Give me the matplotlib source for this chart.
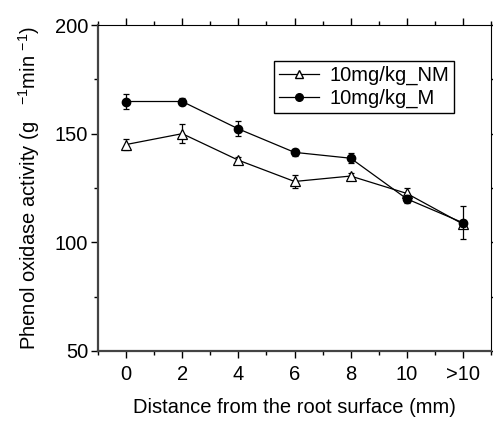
import matplotlib.pyplot as plt
import numpy as np
from matplotlib.ticker import MultipleLocator
from matplotlib.lines import Line2D

plt.rcParams['font.family'] = ['Liberation Sans', 'DejaVu Sans']
plt.rcParams['mathtext.fontset'] = 'custom'
plt.rcParams['mathtext.rm'] = 'Liberation Sans'
plt.rcParams['mathtext.default'] = 'regular'

# data
distance = ['0', '2', '4', '6', '8', '10', '>10']
nm_mean = [145.0, 150.0, 137.8, 128.0, 130.5, 122.5, 108.4]
nm_err = [2.5, 4.3, 1.5, 3.0, 1.5, 2.5, 2.0]
m_mean = [164.8, 164.8, 152.2, 141.4, 138.7, 120.0, 109.0]
m_err = [3.4, 1.5, 3.5, 1.5, 2.2, 2.0, 7.6]

x = np.arange(len(distance))

fig = plt.figure(figsize=(4.93, 4.21), dpi=100)
ax = fig.add_axes([0.1988, 0.1663, 0.7972, 0.7743])

ax.errorbar(x, nm_mean, yerr=nm_err, color='black', marker='^', markersize=6.5,
            markerfacecolor='white', markeredgecolor='black', markeredgewidth=0.9,
            linewidth=0.9, elinewidth=0.9, capsize=2.5, capthick=0.9, zorder=3)
ax.errorbar(x, m_mean, yerr=m_err, color='black', marker='o', markersize=6,
            markerfacecolor='black', markeredgecolor='black',
            linewidth=0.9, elinewidth=0.9, capsize=2.5, capthick=0.9, zorder=4)

ax.set_xlim(-0.5, 6.5)
ax.set_ylim(50, 200)
ax.set_xticks(x)
ax.set_xticklabels(distance)
ax.xaxis.set_minor_locator(MultipleLocator(0.5))
ax.set_yticks([50, 100, 150, 200])
ax.yaxis.set_minor_locator(MultipleLocator(25))

ax.tick_params(axis='both', which='both', labelsize=14.5, top=True, right=True,
               color='black')
ax.tick_params(axis='both', which='major', length=5, width=1)
ax.tick_params(axis='both', which='minor', length=3, width=1)
ax.tick_params(axis='x', which='major', pad=5)
ax.tick_params(axis='y', which='major', pad=2)

for side in ['left', 'bottom']:
    ax.spines[side].set_linewidth(1.6)
    ax.spines[side].set_color('#444444')
for side in ['top', 'right']:
    ax.spines[side].set_linewidth(0.8)

ax.set_xlabel('Distance from the root surface (mm)', fontsize=14.5, labelpad=10)
ax.set_ylabel('Phenol oxidase activity (g   $^{-1}$min $^{-1}$)', fontsize=14.5, labelpad=9)

handles = [
    Line2D([], [], color='black', linewidth=0.9, marker='^', markersize=6,
           markerfacecolor='white', markeredgecolor='black'),
    Line2D([], [], color='black', linewidth=0.9, marker='o', markersize=5.5,
           markerfacecolor='black', markeredgecolor='black'),
]
leg = ax.legend(handles, ['10mg/kg_NM', '10mg/kg_M'], loc='upper right',
                bbox_to_anchor=(0.906, 0.89), fontsize=14.5,
                frameon=True, fancybox=False, edgecolor='black', framealpha=1,
                handlelength=2.0, handletextpad=0.5, borderpad=0.25,
                labelspacing=0.2, borderaxespad=0)
leg.get_frame().set_linewidth(1.0)

fig.savefig('out.png', dpi=100)
